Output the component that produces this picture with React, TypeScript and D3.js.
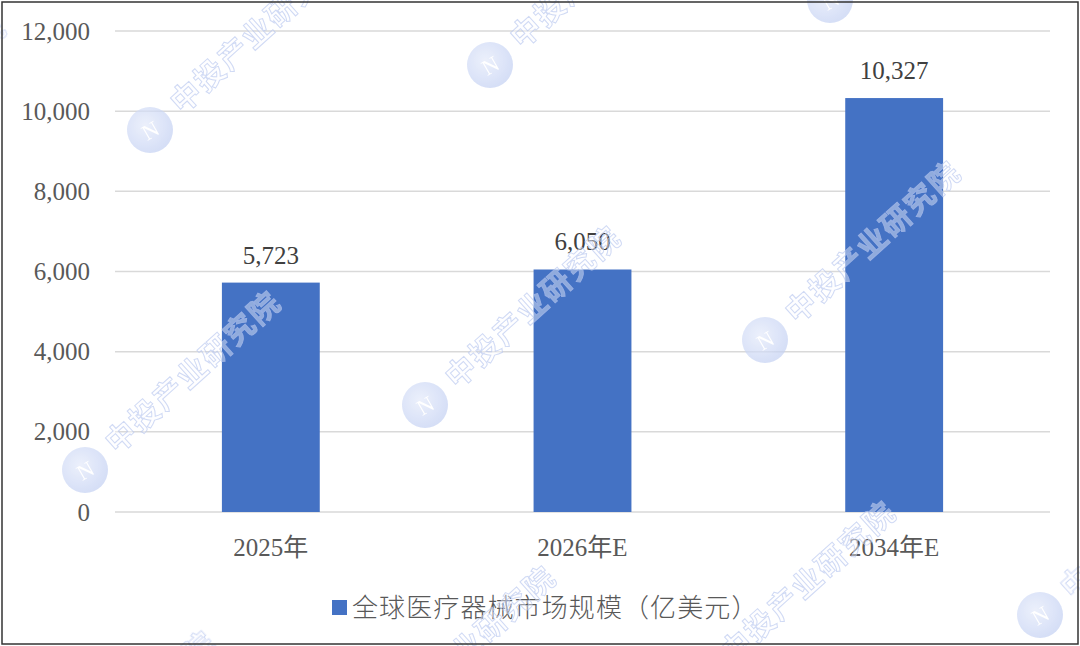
import { useMemo } from 'react'
import * as d3 from 'd3'

const categories = ['2025年', '2026年E', '2034年E']
const values = [5723, 6050, 10327]
const yTicks = [0, 2000, 4000, 6000, 8000, 10000, 12000]
const seriesName = '全球医疗器械市场规模（亿美元）'
const watermarkText = '中投产业研究院'

const W = 1080, H = 646
const margin = { top: 31, right: 30, bottom: 134, left: 115 }
const BAR = '#4472C4'
const TXT = '#595959'
const SERIF = '"Liberation Serif", "Times New Roman", "Noto Sans CJK SC", serif'
const CJK = '"Noto Sans CJK SC", "Noto Sans", sans-serif'

// watermark lattice (decoration only), keep the ones that show on the page
const wmOrigins: Array<[number, number]> = []
for (let i = -2; i <= 4; i++) {
  for (let j = -1; j <= 3; j++) {
    const wx = 150 + i * 340 - j * 65
    const wy = 130 - i * 65 + j * 340
    if (wx + 200 < 0 || wx - 30 > W || wy - 170 > H || wy + 30 < 0) continue
    wmOrigins.push([wx, wy])
  }
}

const Watermark = ({ x, y }: { x: number; y: number }) => (
  <g transform={`translate(${x},${y})`}>
    <circle r={23} fill="url(#wmGrad)" />
    <text x={0} y={8} textAnchor="middle" fontSize={22} fontFamily={SERIF} fill="#ffffff" transform="rotate(-30)">N</text>
    <text
      x={34} y={10} transform="rotate(-42)"
      fontSize={30} fontWeight={700} fontFamily={CJK}
      fill="#fbfcff" fillOpacity={0.6} stroke="#bccaf0" strokeWidth={1}
      letterSpacing={2}
    >{watermarkText}</text>
  </g>
)

const App = () => {
  const x = useMemo(() => d3.scaleBand<string>()
    .domain(categories)
    .range([margin.left, W - margin.right])
    .paddingInner(0.686)
    .paddingOuter(0.343), [])
  const y = useMemo(() => d3.scaleLinear()
    .domain([0, 12000])
    .range([H - margin.bottom, margin.top]), [])
  const fmt = d3.format(',')

  return (
    <svg width={W} height={H} style={{ position: 'absolute', left: 0, top: 0, background: '#fff' }}>
      <defs>
        <radialGradient id="wmGrad" cx="40%" cy="40%" r="70%">
          <stop offset="0%" stopColor="#e4eafa" />
          <stop offset="100%" stopColor="#bfcdf2" />
        </radialGradient>
      </defs>
      <rect x={0} y={0} width={W} height={H} fill="#fff" />
      {yTicks.map(t => (
        <g key={t}>
          <line x1={margin.left} x2={W - margin.right} y1={y(t)} y2={y(t)} stroke="#d9d9d9" strokeWidth={1.5} />
          <text x={90} y={y(t)} dy={8.5} textAnchor="end" fontSize={25} fontFamily={SERIF} fill={TXT}>{fmt(t)}</text>
        </g>
      ))}
      {categories.map((c, i) => (
        <g key={c}>
          <rect x={x(c)} y={y(values[i])} width={x.bandwidth()} height={y(0) - y(values[i])} fill={BAR} />
          <text x={(x(c) as number) + x.bandwidth() / 2} y={y(values[i]) - 19} textAnchor="middle" fontSize={25} fontFamily={SERIF} fill="#404040">{fmt(values[i])}</text>
          <text x={(x(c) as number) + x.bandwidth() / 2} y={556} textAnchor="middle" fontSize={25} fontFamily={SERIF} fill={TXT}>{c}</text>
        </g>
      ))}
      <g>
        <rect x={332} y={600} width={15} height={15} fill={BAR} />
        <text x={352} y={617} fontSize={26} letterSpacing={1.1} fontFamily={CJK} fontWeight={300} fill={TXT}>{seriesName}</text>
      </g>
      <g opacity={0.7}>
        {wmOrigins.map(([wx, wy], k) => <Watermark key={k} x={wx} y={wy} />)}
      </g>
      <rect x={2} y={2} width={W - 4} height={H - 4} fill="none" stroke="#333" strokeWidth={1.5} />
    </svg>
  )
}

export default App
